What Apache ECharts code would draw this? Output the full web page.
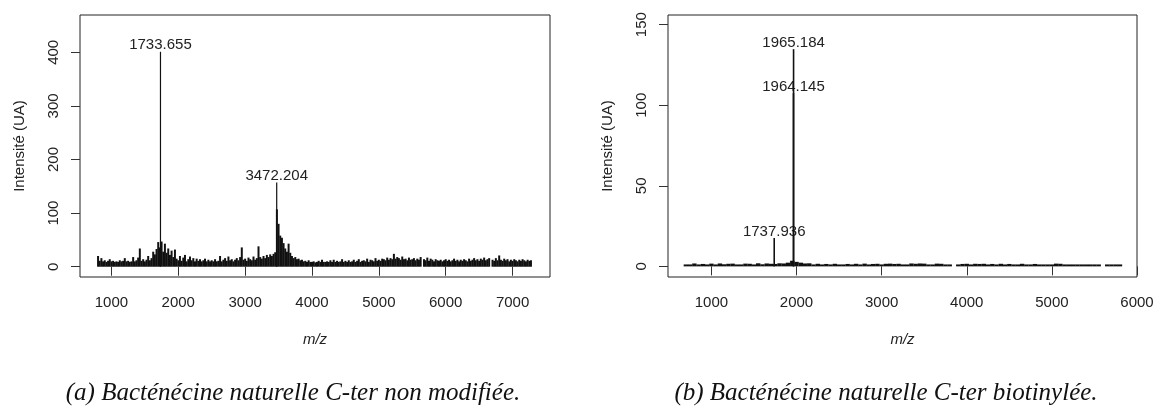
<!DOCTYPE html>
<html>
<head>
<meta charset="utf-8">
<script src="https://cdn.jsdelivr.net/npm/echarts@6/dist/echarts.min.js"></script>
<style>
html,body{margin:0;padding:0;background:#fff;}
#chart{width:1157px;height:412px;}
</style>
</head>
<body>
<div id="chart"></div>
<script>
// ---------- data ----------
// Panel (a): spectrum sampled every 25 Da from 800
const leftStart = 800;
const leftStep = 25;
const leftIntensity = [
  20,11,16,10,  12,9,11,14,   10,11,9,10,   9,12,10,11,
  16,10,11,9,   10,18,10,12,  17,34,11,14,  10,13,20,12,
  16,28,23,33,  46,36,47,28,  43,26,34,22,  30,18,32,15,
  12,20,11,17,  22,10,14,19,  12,16,10,15,  11,14,10,12,
  15,10,13,10,  12,10,14,10,  11,20,10,13,  16,11,19,12,
  14,10,13,16,  12,18,36,13,  15,11,17,14,  12,19,13,16,
  38,18,15,20,  16,22,18,23,  20,24,27,107, 80,58,54,44,
  34,28,43,26,  20,16,18,14,  15,12,13,10,  11,9,12,9,
  9,10,8,9,     11,9,13,9,    9,10,9,12,    9,13,9,11,
  9,10,14,9,    11,9,12,9,    10,13,9,11,   14,9,11,12,
  10,15,9,13,   12,10,16,11,  13,11,15,14,  12,17,13,16,
  14,24,15,18,  16,13,19,14,  15,12,17,13,  14,16,12,15,
  13,18,0,14,   12,17,11,15,  13,10,14,12,  11,13,10,12,
  14,11,13,10,  12,15,11,13,  10,13,11,14,  12,10,15,11,
  13,16,12,14,  11,15,13,17,  12,14,16,0,   13,11,16,12,
  21,13,11,15,  12,14,10,13,  11,14,12,10,  13,11,14,12,
  10,13,11,12
];
const leftPeakMz = [1733.655, 3472.204];
const leftPeakIntensity = [401, 157];
const leftPeakLabels = ['1733.655', '3472.204'];
const leftXTicks = [1000, 2000, 3000, 4000, 5000, 6000, 7000];
const leftYTicks = [0, 100, 200, 300, 400];

// Panel (b): spectrum sampled every 50 Da from 700
const rightStart = 700;
const rightStep = 50;
const rightIntensity = [
  1.2,1.2,  1.8,1.2,  1.5,1.2,  1.7,1.2,  1.8,1.3,  1.6,1.7,
  1.2,1.2,  1.7,1.6,  1.2,1.9,  1.3,1.8,  1.6,1.5,  1.9,1.8,
  2.3,3.5,  2.8,2.3,  1.8,1.9,  1.2,1.6,  1.2,1.5,  1.2,1.6,
  1.2,1.2,  1.5,1.2,  1.6,1.2,  1.7,1.2,  1.5,1.6,  1.2,1.6,
  1.7,1.5,  1.6,1.2,  1.2,1.8,  1.6,1.8,  1.7,1.2,  1.2,1.7,
  1.6,1.2,  1.2,0,    1.2,1.5,  1.6,1.2,  1.6,1.5,  1.6,1.2,
  1.5,1.2,  1.6,1.2,  1.5,1.2,  1.2,1.6,  1.2,1.2,  1.5,1.2,
  1.2,1.2,  1.2,1.7,  1.6,1.2,  1.2,1.2,  1.2,1.2,  1.2,1.2,
  1.2,1.2,  0,1.2,    1.2,1.2,  1.2
];
const rightPeakMz = [1737.936, 1964.145, 1965.184];
const rightPeakIntensity = [17.6, 107.5, 134.8];
const rightPeakLabels = ['1737.936', '1964.145', '1965.184'];
const rightXTicks = [1000, 2000, 3000, 4000, 5000, 6000];
const rightYTicks = [0, 50, 100, 150];

const captionA = '(a) Bacténécine naturelle C-ter non modifiée.';
const captionB = '(b) Bacténécine naturelle C-ter biotinylée.';
const yName = 'Intensité (UA)';
const xName = 'm/z';

// ---------- build ----------
function toPairs(start, step, arr) {
  return arr.map((v, i) => [start + i * step, v]);
}
const INK = '#111';
const TXT = '#222';
const FONT = '"Liberation Sans", Arial, sans-serif';

function stickSeries(gridIdx, data, width) {
  return {
    type: 'custom',
    xAxisIndex: gridIdx, yAxisIndex: gridIdx,
    data: data,
    encode: { x: 0, y: 1 },
    clip: true,
    silent: true,
    renderItem: function (params, api) {
      const x = api.value(0), y = api.value(1);
      const p0 = api.coord([x, 0]);
      const p1 = api.coord([x, y]);
      return {
        type: 'rect',
        shape: { x: p0[0] - width / 2, y: p1[1], width: width, height: p0[1] - p1[1] },
        style: { fill: INK }
      };
    }
  };
}
function peakSeries(gridIdx, mz, inten, labels, width) {
  return {
    type: 'custom',
    xAxisIndex: gridIdx, yAxisIndex: gridIdx,
    data: mz.map((m, i) => [m, inten[i]]),
    encode: { x: 0, y: 1 },
    silent: true,
    renderItem: function (params, api) {
      const x = api.value(0), y = api.value(1);
      const lab = labels[params.dataIndex];
      const p0 = api.coord([x, 0]);
      const p1 = api.coord([x, y]);
      return {
        type: 'group',
        children: [
          { type: 'line', shape: { x1: p0[0], y1: p0[1], x2: p1[0], y2: p1[1] },
            style: { stroke: INK, lineWidth: width } },
          { type: 'text', x: p1[0], y: p1[1] + 1,
            style: { text: lab, font: '15px ' + FONT, fill: TXT, align: 'center', verticalAlign: 'bottom' } }
        ]
      };
    }
  };
}
function plain(v) { return String(v); }
function xAxisDef(gridIdx, min, max, ticks) {
  return {
    type: 'value', gridIndex: gridIdx, min: min, max: max,
    name: xName, nameLocation: 'middle', nameGap: 55,
    nameTextStyle: { fontFamily: FONT, fontStyle: 'italic', fontSize: 15, color: TXT },
    axisLine: { show: false },
    axisTick: { show: true, length: 9, customValues: ticks, lineStyle: { color: '#333', width: 1 } },
    axisLabel: { customValues: ticks, formatter: plain, margin: 18, fontFamily: FONT, fontSize: 15, color: TXT },
    splitLine: { show: false }
  };
}
function yAxisDef(gridIdx, min, max, ticks) {
  return {
    type: 'value', gridIndex: gridIdx, min: min, max: max,
    name: yName, nameLocation: 'middle', nameGap: 53,
    nameTextStyle: { fontFamily: FONT, fontSize: 15, color: TXT },
    axisLine: { show: false },
    axisTick: { show: true, length: 9, customValues: ticks, lineStyle: { color: '#333', width: 1 } },
    axisLabel: { customValues: ticks, formatter: plain, rotate: 90, margin: 19, fontFamily: FONT, fontSize: 15, color: TXT },
    splitLine: { show: false }
  };
}

const chart = echarts.init(document.getElementById('chart'), null, { renderer: 'canvas' });
const captionFont = 'italic 25px "Liberation Serif", "Times New Roman", serif';
chart.setOption({
  backgroundColor: '#fff',
  animation: false,
  grid: [
    { left: 80, top: 15, width: 470, height: 262, show: true, borderColor: '#222', borderWidth: 1, backgroundColor: 'transparent' },
    { left: 668, top: 15, width: 469, height: 262, show: true, borderColor: '#222', borderWidth: 1, backgroundColor: 'transparent' }
  ],
  xAxis: [
    xAxisDef(0, 530, 7560, leftXTicks),
    xAxisDef(1, 490, 6000, rightXTicks)
  ],
  yAxis: [
    yAxisDef(0, -19.2, 469.6, leftYTicks),
    yAxisDef(1, -6.6, 156, rightYTicks)
  ],
  series: [
    stickSeries(0, toPairs(leftStart, leftStep, leftIntensity), 2),
    peakSeries(0, leftPeakMz, leftPeakIntensity, leftPeakLabels, 1.2),
    stickSeries(1, toPairs(rightStart, rightStep, rightIntensity), 4.4),
    peakSeries(1, rightPeakMz, rightPeakIntensity, rightPeakLabels, 1.6)
  ],
  graphic: [
    { type: 'text', x: 293, y: 393, style: { text: captionA, font: captionFont, fill: '#111', align: 'center', verticalAlign: 'middle' } },
    { type: 'text', x: 886, y: 393, style: { text: captionB, font: captionFont, fill: '#111', align: 'center', verticalAlign: 'middle' } }
  ]
});
</script>
</body>
</html>
